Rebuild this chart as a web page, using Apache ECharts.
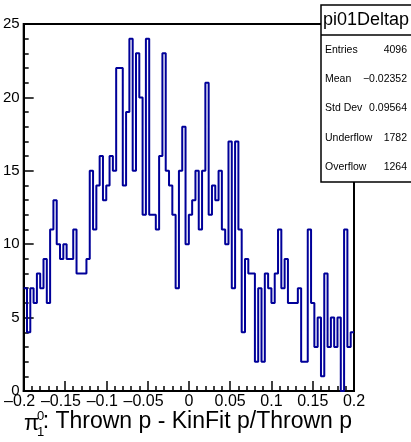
<!DOCTYPE html>
<html><head><meta charset="utf-8">
<script src="https://cdn.jsdelivr.net/npm/echarts/dist/echarts.min.js"></script>
<style>html,body{margin:0;padding:0;background:#fff}#c{width:411px;height:442px}</style>
</head><body><div id="c"></div>
<script>
// Histogram: 100 bins from -0.2 to 0.2
const binLow = -0.2;
const binHigh = 0.2;
const nBins = 100;
const counts = [
  7,4,7,6,8,7,9,6,11,13,
  10,9,10,9,9,11,8,8,8,9,
  15,11,14,16,13,14,16,15,22,22,
  14,19,24,15,23,20,12,24,12,12,
  11,16,23,15,14,12,7,15,18,10,
  12,13,15,11,15,21,12,14,13,15,
  11,10,17,7,17,11,4,9,8,8,
  2,7,2,8,7,6,8,11,7,9,
  6,6,6,7,2,2,11,6,3,5,
  1,8,3,5,3,5,0,11,3,4
];
const statNames = ['Entries', 'Mean', 'Std Dev', 'Underflow', 'Overflow'];
const statValues = ['4096', '\u22120.02352', '0.09564', '1782', '1264'];
const histName = 'pi01Deltap';

const binWidth = (binHigh - binLow) / nBins;
const pts = counts.map((c, i) => [binLow + i * binWidth, c]);
pts.push([binHigh, counts[counts.length - 1]]);

const FONT = '"Liberation Sans", Arial, sans-serif';
const chart = echarts.init(document.getElementById('c'), null, {renderer: 'canvas'});

const graphics = [];
// stats box
graphics.push({type: 'rect', shape: {x: 321, y: 5, width: 100, height: 177},
  style: {fill: '#fff', stroke: '#000', lineWidth: 1.5}, z: 10});
graphics.push({type: 'line', shape: {x1: 321, y1: 35, x2: 411, y2: 35},
  style: {stroke: '#000', lineWidth: 1.5}, z: 11});
graphics.push({type: 'text', x: 366, y: 20, z: 11,
  style: {text: histName, font: '18px ' + FONT, fill: '#000', textAlign: 'center', textVerticalAlign: 'middle'}});
statNames.forEach((n, i) => {
  const y = 49.7 + i * 29.4;
  graphics.push({type: 'text', x: 325, y: y, z: 11,
    style: {text: n, font: '10.5px ' + FONT, fill: '#000', textAlign: 'left', textVerticalAlign: 'middle'}});
  graphics.push({type: 'text', x: 407, y: y, z: 11,
    style: {text: statValues[i], font: '10.5px ' + FONT, fill: '#000', textAlign: 'right', textVerticalAlign: 'middle'}});
});
// x axis title
graphics.push({type: 'text', x: 24, y: 424, style: {text: '\u03c0', font: '22px ' + FONT, fill: '#000', textAlign: 'left', textVerticalAlign: 'middle'}});
graphics.push({type: 'text', x: 37, y: 416, style: {text: '0', font: '13px ' + FONT, fill: '#000', textAlign: 'left', textVerticalAlign: 'middle'}});
graphics.push({type: 'text', x: 37, y: 432, style: {text: '1', font: '13px ' + FONT, fill: '#000', textAlign: 'left', textVerticalAlign: 'middle'}});
graphics.push({type: 'text', x: 352, y: 422, style: {text: ': Thrown p - KinFit p/Thrown p', font: '23px ' + FONT, fill: '#000', textAlign: 'right', textVerticalAlign: 'middle'}});

chart.setOption({
  animation: false,
  backgroundColor: '#fff',
  grid: {left: 23, right: 57, top: 24, bottom: 51, show: true, borderColor: '#000', borderWidth: 2, backgroundColor: 'transparent'},
  xAxis: {
    type: 'value', min: binLow, max: binHigh, interval: 0.05,
    axisLine: {show: true, onZero: false, lineStyle: {color: '#000', width: 2}},
    axisTick: {show: true, inside: true, length: 10, lineStyle: {color: '#000', width: 1.5}},
    minorTick: {show: true, splitNumber: 5, length: 5, lineStyle: {color: '#000', width: 1.5}},
    splitLine: {show: false},
    axisLabel: {
      margin: 3, color: '#000', fontFamily: FONT, fontSize: 16,
      formatter: v => {
        const r = Math.round(v * 100) / 100;
        if (r < 0) return '{n|\u2013' + String(-r) + '}';
        return '{p|' + String(r) + '}';
      },
      rich: {
        n: {fontFamily: FONT, fontSize: 16, color: '#000', padding: [0, 8, 0, 0]},
        p: {fontFamily: FONT, fontSize: 16, color: '#000'}
      }
    }
  },
  yAxis: {
    type: 'value', min: 0, max: 25, interval: 5,
    axisLine: {show: true, onZero: false, lineStyle: {color: '#000', width: 2}},
    axisTick: {show: true, inside: true, length: 10, lineStyle: {color: '#000', width: 1.5}},
    minorTick: {show: true, splitNumber: 5, length: 5, lineStyle: {color: '#000', width: 1.5}},
    splitLine: {show: false},
    axisLabel: {margin: 4, color: '#000', fontFamily: FONT, fontSize: 15}
  },
  series: [{
    type: 'line', data: pts, step: 'end', symbol: 'none', clip: true,
    lineStyle: {color: '#000099', width: 2},
    z: 5
  }],
  graphic: graphics
});
</script>
</body></html>
